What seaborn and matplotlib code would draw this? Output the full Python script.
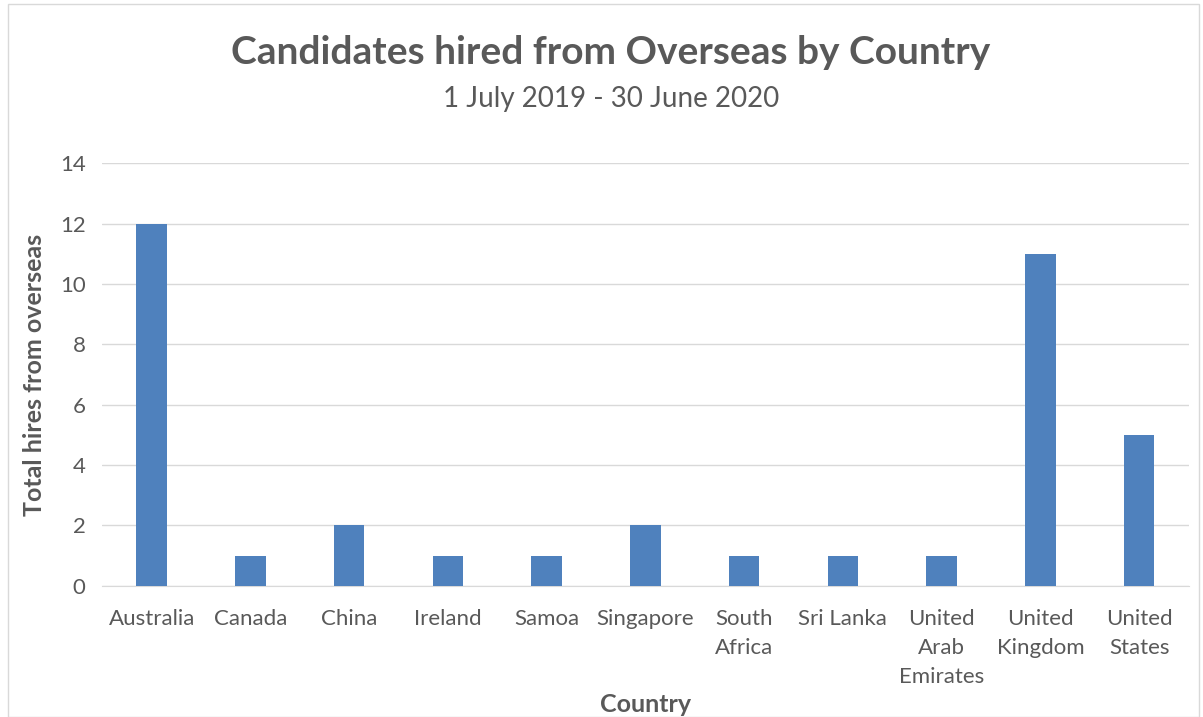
import pandas as pd
import seaborn as sns
import matplotlib.pyplot as plt
from matplotlib.patches import Rectangle

countries = ["Australia", "Canada", "China", "Ireland", "Samoa", "Singapore",
             "South\nAfrica", "Sri Lanka", "United\nArab\nEmirates",
             "United\nKingdom", "United\nStates"]
hires = [12, 1, 2, 1, 1, 2, 1, 1, 1, 11, 5]

df = pd.DataFrame({"Country": countries, "Hires": hires})

sns.set_style("white")
plt.rcParams["font.family"] = ["Lato", "DejaVu Sans"]
grey = "#595959"

fig = plt.figure(figsize=(12.03, 7.17), dpi=100)
ax = fig.add_axes([0.085, 0.183, 0.903, 0.589])

sns.barplot(data=df, x="Country", y="Hires", color="#4F81BD", width=0.31,
            saturation=1, linewidth=0, ax=ax, zorder=3)

ax.set_ylim(0, 14)
ax.set_yticks(range(0, 15, 2))
ax.set_xlim(-0.5, len(countries) - 0.5)
ax.set_xticks(range(len(countries)))
ax.set_xticklabels(countries, linespacing=1.55)
ax.yaxis.grid(True, color="#D9D9D9", linewidth=1, zorder=0)
ax.set_axisbelow(True)
for s in ["top", "right", "left"]:
    ax.spines[s].set_visible(False)
ax.spines["bottom"].set_color("#D9D9D9")
ax.tick_params(axis="both", length=0, labelsize=16, colors=grey)
ax.tick_params(axis="x", pad=17)
ax.tick_params(axis="y", pad=12)
ax.set_xlabel("Country", fontsize=18, fontweight="bold", color=grey, labelpad=4)
ax.set_ylabel("Total hires from overseas", fontsize=18, fontweight="bold", color=grey, labelpad=10)

fig.text(0.508, 0.927, "Candidates hired from Overseas by Country", ha="center", va="center",
         fontsize=28, fontweight="bold", color=grey)
fig.text(0.508, 0.862, "1 July 2019 - 30 June 2020", ha="center", va="center",
         fontsize=20, color=grey)

fig.patches.append(Rectangle((0.007, 0.0), 0.99, 0.995, transform=fig.transFigure,
                             fill=False, edgecolor="#D9D9D9", linewidth=1))

plt.savefig("out.png", dpi=100)
